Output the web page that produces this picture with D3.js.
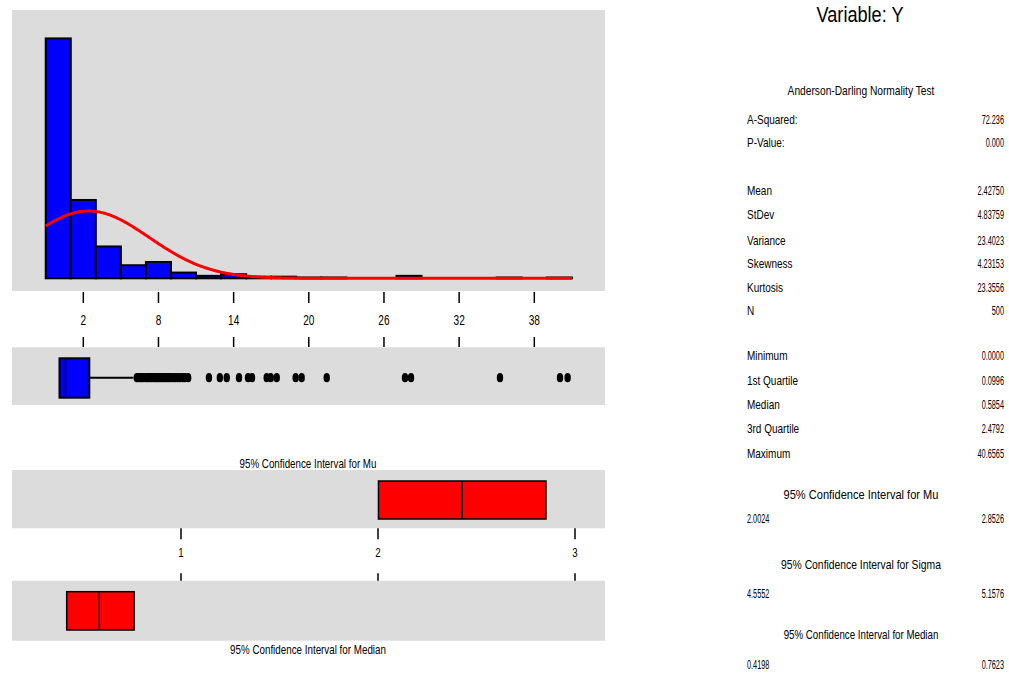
<!DOCTYPE html>
<html><head><meta charset="utf-8">
<script src="https://cdn.jsdelivr.net/npm/d3@7"></script>
<style>
body{margin:0;background:#fff;}
svg text{font-family:"Liberation Sans",Arial,sans-serif;fill:#000;}
</style></head>
<body><svg id="c" width="1009" height="675"></svg>
<script>
// ---------- DATA ----------
const binMids   = [0,2,4,6,8,10,12,14,16,18,20,22,24,26,28,30,32,34,36,38,40];
const binCounts = [294,96,39,16,20,7,3,5,2,2,1,1,0,0,3,0,0,0,1,0,1];
const binWidth = 2;
const histTicks = [2,8,14,20,26,32,38];
const sampleN = 500;
const sampleMean = 2.42750;
const sampleStDev = 4.83759;
const boxQ1 = 0.0996, boxMedian = 0.5854, boxQ3 = 2.4792, whiskerHigh = 5.99;
const outlierCluster = [6.27,6.41,6.58,6.66,6.83,7.02,7.15,7.31,7.44,7.62,7.78,7.9,8.07,8.21,8.36,8.52,8.68,8.81,8.97,9.16,9.34,9.52,9.71,9.93,10.12,10.37];
const outlierSingles = [12.03,12.9,13.45,14.43,15.15,15.47,16.64,16.96,17.44,18.95,19.43,21.43,27.68,28.16,35.26,40.05,40.66];
const ciTicks = [1,2,3];
const muCI = [2.0024, 2.8526];
const sigmaCI = [4.5552, 5.1576];
const medianCI = [0.4198, 0.7623];
const adLabels = ["A-Squared:","P-Value:"];
const adValues = ["72.236","0.000"];
const descLabels = ["Mean","StDev","Variance","Skewness","Kurtosis","N"];
const descValues = ["2.42750","4.83759","23.4023","4.23153","23.3556","500"];
const quartLabels = ["Minimum","1st Quartile","Median","3rd Quartile","Maximum"];
const quartValues = ["0.0000","0.0996","0.5854","2.4792","40.6565"];

// ---------- HELPERS ----------
const svg = d3.select("#c");
// text condensed horizontally with a transform (width w, or factor f)
function ctext(parent, t, px, py, size, anchor, opt){
  const el = parent.append("text").attr("x",0).attr("y",0).attr("font-size",size).attr("text-anchor",anchor).text(t);
  const nat = el.node().getComputedTextLength();
  const sx = opt.w ? opt.w/nat : opt.f;
  el.attr("transform",`translate(${px},${py}) scale(${sx.toFixed(4)},1)`);
  return el;
}

// ---------- LAYOUT ----------
const gray = "#dcdcdc";
const panelX0 = 12, panelX1 = 605;

const x = d3.scaleLinear().domain([2,38]).range([83.3,534.3]);
const y = d3.scaleLinear().domain([0,320]).range([278.3,17.2]);

// Histogram panel
svg.append("rect").attr("x",panelX0).attr("y",10).attr("width",panelX1-panelX0).attr("height",281).attr("fill",gray);
svg.append("g").selectAll("rect").data(binMids.map((m,i)=>({m,c:binCounts[i]})).filter(d=>d.c>0))
  .join("rect")
  .attr("x",d=>x(d.m-binWidth/2)).attr("width",d=>x(d.m+binWidth/2)-x(d.m-binWidth/2))
  .attr("y",d=>y(d.c)).attr("height",d=>y(0)-y(d.c))
  .attr("fill","#0000ff").attr("stroke","#000").attr("stroke-width",2);

// fitted normal curve from the reported mean / stdev
const pdf = v => Math.exp(-0.5*Math.pow((v-sampleMean)/sampleStDev,2))/(sampleStDev*Math.sqrt(2*Math.PI));
const curveX = d3.range(-1, 41.05, 0.1);
svg.append("path").datum(curveX)
  .attr("d", d3.line().x(v=>x(v)).y(v=>y(pdf(v)*sampleN*binWidth)))
  .attr("fill","none").attr("stroke","#ff0000").attr("stroke-width",3);

// histogram / boxplot axis
const ax = svg.append("g");
histTicks.forEach(t=>{
  ax.append("line").attr("x1",x(t)).attr("x2",x(t)).attr("y1",292).attr("y2",303).attr("stroke","#000").attr("stroke-width",1.5);
  ax.append("line").attr("x1",x(t)).attr("x2",x(t)).attr("y1",337).attr("y2",347).attr("stroke","#000").attr("stroke-width",1.5);
  ctext(ax, String(t), x(t), 324.5, 14, "middle", {f:0.72});
});

// Boxplot panel
svg.append("rect").attr("x",panelX0).attr("y",347.3).attr("width",panelX1-panelX0).attr("height",57.7).attr("fill",gray);
const bY0 = 358.3, bY1 = 397.7, bC = 377.7;
svg.append("line").attr("x1",x(boxQ3)).attr("x2",x(whiskerHigh)).attr("y1",bC).attr("y2",bC).attr("stroke","#000").attr("stroke-width",2);
svg.append("rect").attr("x",x(boxQ1)).attr("y",bY0).attr("width",x(boxQ3)-x(boxQ1)).attr("height",bY1-bY0)
  .attr("fill","#0000ff").attr("stroke","#000").attr("stroke-width",2);
svg.append("line").attr("x1",x(boxMedian)).attr("x2",x(boxMedian)).attr("y1",bY0).attr("y2",bY1).attr("stroke","#000").attr("stroke-width",1.5);
svg.append("g").selectAll("ellipse").data(outlierCluster.concat(outlierSingles)).join("ellipse")
  .attr("cx",d=>x(d)).attr("cy",bC).attr("rx",3.2).attr("ry",4.6).attr("fill","#000");

// CI panels
const cx = d3.scaleLinear().domain([1,3]).range([181,575]);
ctext(svg, "95% Confidence Interval for Mu", 308, 467.5, 12, "middle", {w:137});
svg.append("rect").attr("x",panelX0).attr("y",470).attr("width",panelX1-panelX0).attr("height",58.3).attr("fill",gray);
svg.append("rect").attr("x",cx(muCI[0])).attr("y",481).attr("width",cx(muCI[1])-cx(muCI[0])).attr("height",38)
  .attr("fill","#ff0000").attr("stroke","#000").attr("stroke-width",1.5);
svg.append("line").attr("x1",cx(sampleMean)).attr("x2",cx(sampleMean)).attr("y1",481).attr("y2",519).attr("stroke","#000").attr("stroke-width",1.5);

const cax = svg.append("g");
ciTicks.forEach(t=>{
  cax.append("line").attr("x1",cx(t)).attr("x2",cx(t)).attr("y1",528.3).attr("y2",539.3).attr("stroke","#000").attr("stroke-width",1.5);
  cax.append("line").attr("x1",cx(t)).attr("x2",cx(t)).attr("y1",573.3).attr("y2",582.3).attr("stroke","#000").attr("stroke-width",1.5);
  ctext(cax, String(t), cx(t), 556.5, 13, "middle", {f:0.75});
});

svg.append("rect").attr("x",panelX0).attr("y",580.7).attr("width",panelX1-panelX0).attr("height",60).attr("fill",gray);
svg.append("rect").attr("x",cx(medianCI[0])).attr("y",591.7).attr("width",cx(medianCI[1])-cx(medianCI[0])).attr("height",38.3)
  .attr("fill","#ff0000").attr("stroke","#000").attr("stroke-width",1.5);
svg.append("line").attr("x1",cx(boxMedian)).attr("x2",cx(boxMedian)).attr("y1",591.7).attr("y2",630).attr("stroke","#000").attr("stroke-width",1.5);
ctext(svg, "95% Confidence Interval for Median", 308, 654, 12, "middle", {w:156});

// ---------- RIGHT TEXT PANEL ----------
const LX = 747, RX = 1004, CX = 861;
const numW = s => s.replace(/[^0-9]/g,"").length*4.1 + s.replace(/[0-9]/g,"").length*1.9;
function label(t,yc){ ctext(svg, t, LX, yc+4.5, 12.5, "start", {f:0.8}); }
function value(t,yc,anchor,xx){ ctext(svg, t, xx, yc+4.8, 13.5, anchor, {w:numW(t)}); }
function title(t,yc,w){ ctext(svg, t, CX, yc+4.5, 12.5, "middle", {w}); }

ctext(svg, "Variable: Y", 860, 22, 23, "middle", {w:87});
title("Anderson-Darling Normality Test",90,147);
const adY = [119,142];
adLabels.forEach((l,i)=>{ label(l,adY[i]); value(adValues[i],adY[i],"end",RX); });
const descY = [190,214,240,263,287,310];
descLabels.forEach((l,i)=>{ label(l,descY[i]); value(descValues[i],descY[i],"end",RX); });
const quartY = [355,380,404,428,453];
quartLabels.forEach((l,i)=>{ label(l,quartY[i]); value(quartValues[i],quartY[i],"end",RX); });
const fmt4 = d3.format(".4f");
title("95% Confidence Interval for Mu",494,155);
value(fmt4(muCI[0]),518,"start",LX); value(fmt4(muCI[1]),518,"end",RX);
title("95% Confidence Interval for Sigma",564,160);
value(fmt4(sigmaCI[0]),593,"start",LX); value(fmt4(sigmaCI[1]),593,"end",RX);
title("95% Confidence Interval for Median",634,155);
value(fmt4(medianCI[0]),664,"start",LX); value(fmt4(medianCI[1]),664,"end",RX);
</script></body></html>
